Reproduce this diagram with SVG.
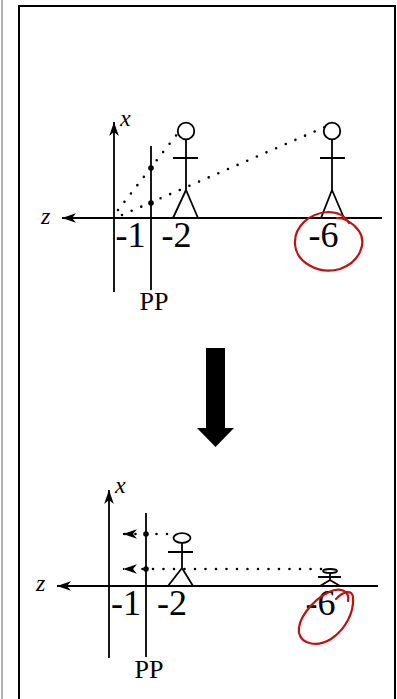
<svg xmlns="http://www.w3.org/2000/svg" width="397" height="699" viewBox="0 0 397 699">
<style>
.ln{stroke:#000;stroke-width:1.8;fill:none}
.fig{stroke:#000;stroke-width:1.8;fill:none}
.dot{stroke:#000;stroke-width:2.6;stroke-linecap:round;stroke-dasharray:0 10.5;fill:none}
.pt{fill:#000}
.num{font-family:"Liberation Serif","Times New Roman",serif;font-size:36px;fill:#000}
.pp{font-family:"Liberation Serif","Times New Roman",serif;font-size:26px;fill:#000}
.ax{font-family:"Liberation Serif","Times New Roman",serif;font-size:24px;font-style:italic;fill:#000}
.red{stroke:#c4100f;stroke-width:2.2;fill:none;stroke-linecap:round;stroke-linejoin:round}
</style>
<defs>
<marker id="ah" markerUnits="userSpaceOnUse" markerWidth="18" markerHeight="12" viewBox="-15 -6 17 12" refX="0" refY="0" orient="auto">
<path d="M0,0 L-14,-4.8 L-10,0 L-14,4.8 Z" fill="#000"/>
</marker>
</defs>
<rect width="397" height="699" fill="#fff"/>
<line x1="2" y1="0" x2="2" y2="699" stroke="#999" stroke-width="1.5"/>
<rect x="19" y="6" width="376" height="720" fill="none" stroke="#000" stroke-width="2"/>

<!-- TOP DIAGRAM -->
<g id="top-axes">
<line class="ln" x1="114" y1="292" x2="114" y2="122" marker-end="url(#ah)"/>
<line class="ln" x1="382" y1="218" x2="62" y2="218" marker-end="url(#ah)"/>
<text class="ax" x="120" y="126">x</text>
<text class="ax" x="41" y="224">z</text>
</g>
<g id="top-pp">
<line class="ln" x1="151" y1="146" x2="151" y2="290"/>
<text class="pp" x="154" y="310" text-anchor="middle">PP</text>
</g>
<g id="top-ticks">
<text class="num" x="115.5" y="247">-1</text>
<text class="num" x="161.5" y="247">-2</text>
<text class="num" x="308.5" y="247">-6</text>
</g>
<g id="top-person-near">
<circle class="fig" cx="186" cy="131" r="8.3"/>
<path class="fig" d="M186,139.5 V190 M173,158 H198 M173,218 L186,190 L198,218"/>
</g>
<g id="top-person-far">
<circle class="fig" cx="332" cy="131" r="8.3"/>
<path class="fig" d="M332,139.5 V190 M320,158 H345 M321,218 L332,190 L344,218"/>
</g>
<g id="top-connectors">
<line class="dot" x1="118" y1="210" x2="178" y2="133"/>
<line class="dot" x1="122" y1="215" x2="325" y2="127"/>
<circle class="pt" cx="151" cy="168" r="2.8"/>
<circle class="pt" cx="151" cy="203" r="2.8"/>
</g>
<g id="top-red-mark">
<path class="red" d="M337,218 C346,218 353,223 359,231 C367,243 360,262 340,269 C318,275 296,262 295,244 C294,226 310,213 328,212 C338,212 345,216 349,223"/>
</g>

<!-- BIG ARROW -->
<g id="transition-arrow">
<path d="M206,348 H225 V428 H234 L215.5,447 L197,428 H206 Z" fill="#000"/>
</g>

<!-- BOTTOM DIAGRAM -->
<g id="bottom-axes">
<line class="ln" x1="109" y1="658" x2="109" y2="490" marker-end="url(#ah)"/>
<line class="ln" x1="378" y1="586" x2="57" y2="586" marker-end="url(#ah)"/>
<text class="ax" x="115" y="493">x</text>
<text class="ax" x="36" y="591">z</text>
</g>
<g id="bottom-pp">
<line class="ln" x1="146" y1="513" x2="146" y2="657"/>
<text class="pp" x="149" y="678" text-anchor="middle">PP</text>
</g>
<g id="bottom-ticks">
<text class="num" x="111" y="615">-1</text>
<text class="num" x="157" y="615">-2</text>
<text class="num" x="305.5" y="615">-6</text>
</g>
<g id="bottom-person-near">
<ellipse class="fig" cx="182" cy="538" rx="8.5" ry="4.8"/>
<path class="fig" d="M182,543 V568 M168,552 H193 M168,586 L182,568 L193,586"/>
</g>
<g id="bottom-person-far">
<ellipse class="fig" cx="330" cy="571" rx="7" ry="2"/>
<path class="fig" d="M330,573 V580 M318,577 H341 M320,586 L330,580 L340,586"/>
</g>
<g id="bottom-connectors">
<line class="dot" x1="167" y1="534" x2="124" y2="534"/>
<line class="ln" x1="124" y1="534" x2="123" y2="534" marker-end="url(#ah)"/>
<line class="dot" x1="321" y1="569" x2="124" y2="569"/>
<line class="ln" x1="124" y1="569" x2="123" y2="569" marker-end="url(#ah)"/>
<circle class="pt" cx="146" cy="534" r="2.8"/>
<circle class="pt" cx="146" cy="569" r="2.8"/>
</g>
<g id="bottom-red-mark">
<path class="red" d="M336,599 C343,591 353,589 353,598 C354,612 346,629 331,639 C318,647 302,645 299,633 C297,620 311,601 329,592 C339,587 350,590 348,601"/>
</g>
</svg>
